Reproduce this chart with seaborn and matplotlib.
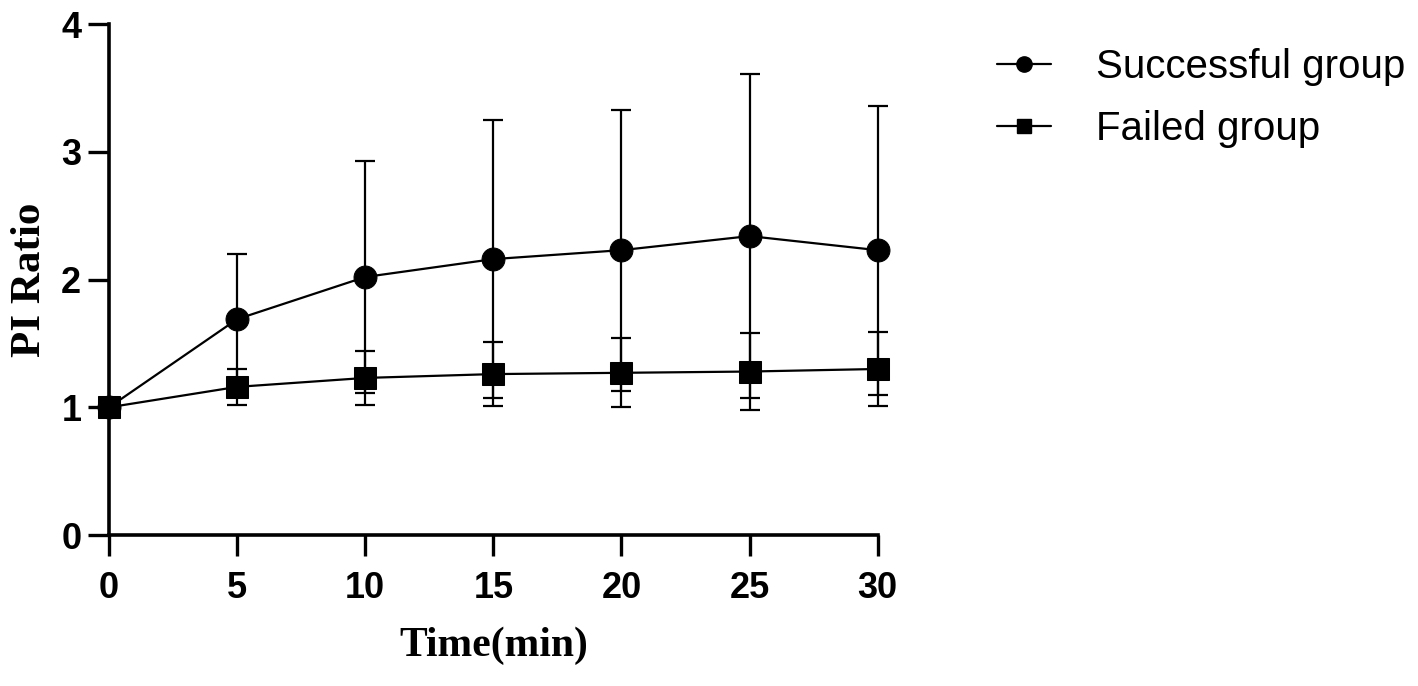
import matplotlib
matplotlib.use("Agg")
import matplotlib.pyplot as plt
from matplotlib.lines import Line2D
import pandas as pd
import seaborn as sns

time_min = [0, 5, 10, 15, 20, 25, 30]
success_mean = [1.00, 1.69, 2.02, 2.16, 2.23, 2.34, 2.23]
success_sd = [0.0, 0.51, 0.91, 1.09, 1.10, 1.27, 1.13]
failed_mean = [1.00, 1.16, 1.23, 1.26, 1.27, 1.28, 1.30]
failed_sd = [0.0, 0.14, 0.21, 0.25, 0.27, 0.30, 0.29]
groups = ["Successful group", "Failed group"]
x_ticks = [0, 5, 10, 15, 20, 25, 30]
y_ticks = [0, 1, 2, 3, 4]


def main():
    sns.set_style("ticks")
    plt.rcParams["font.family"] = ["Liberation Sans", "DejaVu Sans"]
    for key in ["text.color", "axes.labelcolor", "xtick.color", "ytick.color", "axes.edgecolor"]:
        plt.rcParams[key] = "black"

    df = pd.concat([
        pd.DataFrame({"time": time_min, "ratio": success_mean, "sd": success_sd, "group": groups[0]}),
        pd.DataFrame({"time": time_min, "ratio": failed_mean, "sd": failed_sd, "group": groups[1]}),
    ])

    fig = plt.figure(figsize=(14.18, 6.86), dpi=100)
    ax = fig.add_axes([0.0769, 0.220, 0.542, 0.745])

    # SD error bars first so the markers sit on top
    for g in groups:
        sub = df[df["group"] == g]
        ax.errorbar(sub["time"], sub["ratio"], yerr=sub["sd"], fmt="none",
                    ecolor="black", elinewidth=1.6, capsize=7.5, capthick=1.6,
                    zorder=2, clip_on=False)

    sns.lineplot(data=df, x="time", y="ratio", style="group",
                 markers={groups[0]: "o", groups[1]: "s"}, dashes=False,
                 color="black", markersize=16.5, linewidth=1.6,
                 markeredgecolor="black", legend=False, ax=ax, zorder=3,
                 clip_on=False)

    ax.set_xlim(0, 30)
    ax.set_ylim(0, 4)
    ax.set_xticks(x_ticks)
    ax.set_yticks(y_ticks)
    for lab in ax.get_xticklabels() + ax.get_yticklabels():
        lab.set_fontweight("bold")
    ax.tick_params(axis="x", labelsize=26, length=15, width=2.4, pad=11)
    ax.tick_params(axis="y", labelsize=26, length=15, width=2.4, pad=5)
    sns.despine(ax=ax)
    for s in ["left", "bottom"]:
        ax.spines[s].set_linewidth(2.6)

    label_font = dict(family=["Liberation Serif", "DejaVu Serif"], fontweight="bold")
    ax.set_xlabel("Time(min)", labelpad=15, fontsize=30, **label_font)
    ax.set_ylabel("PI Ratio", labelpad=9, fontsize=31, **label_font)

    handles = [
        Line2D([], [], color="black", marker="o", markersize=11, linewidth=1.6),
        Line2D([], [], color="black", marker="s", markersize=10, linewidth=1.6),
    ]
    fig.legend(handles, groups, loc="upper left", bbox_to_anchor=(0.703, 0.93),
               frameon=False, fontsize=29, handlelength=1.35, handletextpad=1.1,
               labelspacing=0.6, borderpad=0, borderaxespad=0)

    fig.savefig("out.png", dpi=100, facecolor="white")


if __name__ == "__main__":
    main()
